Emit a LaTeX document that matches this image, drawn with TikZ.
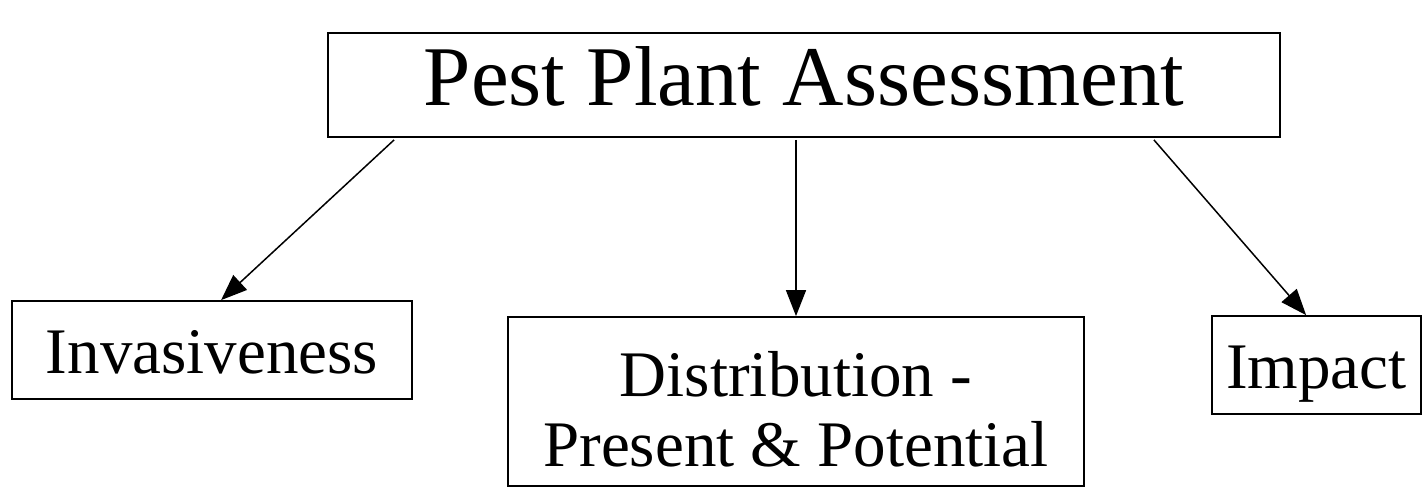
\documentclass[tikz,border=0pt]{standalone}
\usepackage{fontspec}
\setmainfont{Liberation Serif}
\usetikzlibrary{arrows.meta,calc}
\begin{document}
\begin{tikzpicture}[x=1pt,y=-1pt,
  box/.style={draw, line width=1.8pt, inner sep=0pt},
  arr/.style={line width=1.5pt, -{Triangle[length=26pt,width=20pt]}},
  big/.style={font=\fontsize{85}{95}\selectfont},
  mid/.style={font=\fontsize{65}{70}\selectfont}]
\useasboundingbox[fill=white] (0,0) rectangle (1422,487);
\node[box, big, minimum width=952pt, text height=72pt, text depth=32pt] (top) at (804,85) {Pest Plant Assessment};
\node[box, mid, minimum width=400pt, text height=72pt, text depth=26pt] (inv) at (212,350) {Invasiveness};
\node[box, minimum width=576pt, minimum height=169pt] (dist) at (796,401.5) {};
\node[mid, inner sep=0pt, align=center] (distlabel) at ([yshift=-8pt]dist.center) {Distribution -\\Present \& Potential};
\node[box, mid, minimum width=209pt, text height=72pt, text depth=26pt] (imp) at (1316.5,365) {Impact};
\draw[arr] ([xshift=67pt,yshift=-2pt]top.south west) -- ([xshift=210pt]inv.north west);
\draw[arr] ([yshift=-2pt]top.south -| dist.north) -- (dist.north);
\draw[arr] ([xshift=-127pt,yshift=-2pt]top.south east) -- ([xshift=95pt]imp.north west);
\end{tikzpicture}
\end{document}
